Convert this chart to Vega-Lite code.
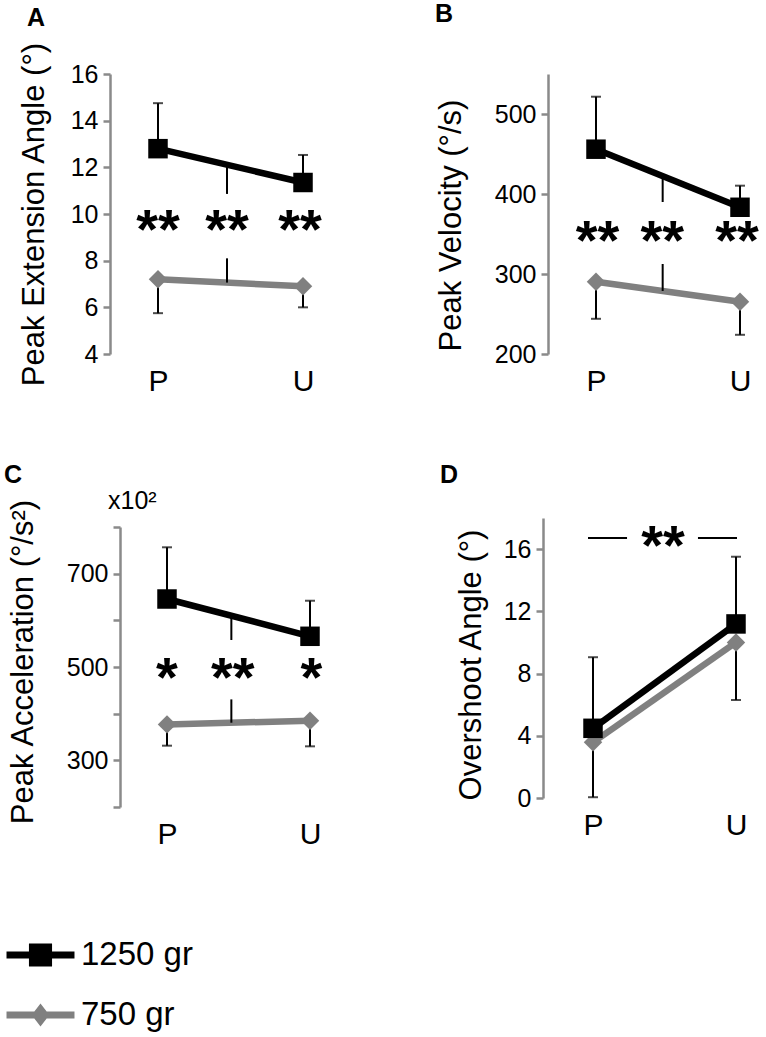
{
  "$schema": "https://vega.github.io/schema/vega-lite/v6.json",
  "padding": {"left": 4, "top": 2, "right": 5, "bottom": 5},
  "background": "white",
  "spacing": 433,
  "bounds": "flush",
  "config": {
    "font": "Liberation Sans",
    "view": {"stroke": null},
    "axisY": {"domainColor": "#8a8a8a", "domainWidth": 2.5, "tickColor": "#8a8a8a", "tickWidth": 2.5, "tickSize": 7, "labelFontSize": 25, "labelColor": "#000000", "labelPadding": 5, "grid": false, "titleFontSize": 31, "titleFontWeight": "normal", "titleColor": "#000000", "titleBaseline": "alphabetic", "labelOverlap": false},
    "axisX": {"domain": false, "ticks": false, "grid": false, "labelFontSize": 30, "labelColor": "#000000", "labelPadding": 12, "labelFlush": false, "labelOverlap": false},
    "title": {"fontSize": 25, "fontWeight": "bold", "color": "#000000", "anchor": "start", "frame": "group", "baseline": "alphabetic"}
  },
  "datasets": {
    "means": [
      {"panel": "A", "series": "1250 gr", "condition": "P", "x": 0, "mean": 12.8, "err": 14.75},
      {"panel": "A", "series": "1250 gr", "condition": "U", "x": 1, "mean": 11.35, "err": 12.53},
      {"panel": "A", "series": "750 gr", "condition": "P", "x": 0, "mean": 7.2, "err": 5.75},
      {"panel": "A", "series": "750 gr", "condition": "U", "x": 1, "mean": 6.9, "err": 6.0},
      {"panel": "B", "series": "1250 gr", "condition": "P", "x": 0, "mean": 456, "err": 521.6},
      {"panel": "B", "series": "1250 gr", "condition": "U", "x": 1, "mean": 383.4, "err": 410.4},
      {"panel": "B", "series": "750 gr", "condition": "P", "x": 0, "mean": 290.4, "err": 244},
      {"panel": "B", "series": "750 gr", "condition": "U", "x": 1, "mean": 265.4, "err": 224},
      {"panel": "C", "series": "1250 gr", "condition": "P", "x": 0, "mean": 645.7, "err": 756.5},
      {"panel": "C", "series": "1250 gr", "condition": "U", "x": 1, "mean": 565.8, "err": 642},
      {"panel": "C", "series": "750 gr", "condition": "P", "x": 0, "mean": 377, "err": 331.4},
      {"panel": "C", "series": "750 gr", "condition": "U", "x": 1, "mean": 385, "err": 330},
      {"panel": "D", "series": "1250 gr", "condition": "P", "x": 0, "mean": 4.48, "err": 9.05},
      {"panel": "D", "series": "1250 gr", "condition": "U", "x": 1, "mean": 11.19, "err": 15.51},
      {"panel": "D", "series": "750 gr", "condition": "P", "x": 0, "mean": 3.58, "err": 0.05},
      {"panel": "D", "series": "750 gr", "condition": "U", "x": 1, "mean": 10.0, "err": 6.3}
    ],
    "links": [
      {"panel": "A", "x": 0.476, "y": 12.09, "y2": 10.86},
      {"panel": "A", "x": 0.476, "y": 8.1, "y2": 7.06},
      {"panel": "B", "x": 0.463, "y": 422.4, "y2": 390},
      {"panel": "B", "x": 0.463, "y": 312.5, "y2": 278.8},
      {"panel": "C", "x": 0.45, "y": 609.7, "y2": 557.9},
      {"panel": "C", "x": 0.45, "y": 430.6, "y2": 380.6}
    ],
    "stars": [
      {"panel": "A", "x": 0, "y": 9.66, "label": "**"},
      {"panel": "A", "x": 0.476, "y": 9.66, "label": "**"},
      {"panel": "A", "x": 0.98, "y": 9.66, "label": "**"},
      {"panel": "B", "x": 0.01, "y": 350, "label": "**"},
      {"panel": "B", "x": 0.46, "y": 350, "label": "**"},
      {"panel": "B", "x": 0.98, "y": 350, "label": "**"},
      {"panel": "C", "x": 0, "y": 493.6, "label": "*"},
      {"panel": "C", "x": 0.46, "y": 493.6, "label": "**"},
      {"panel": "C", "x": 1.01, "y": 493.6, "label": "*"},
      {"panel": "D", "x": 0.49, "y": 16.7, "label": "**"}
    ],
    "bars": [
      {"panel": "D", "x": -0.035, "x2": 0.238, "y": 16.71},
      {"panel": "D", "x": 0.734, "x2": 1.007, "y": 16.71}
    ],
    "notes": [
      {"panel": "C", "x": -0.3986, "y": 800, "note": "x10²"}
    ]
  },
  "hconcat": [
    {
      "spacing": 173,
      "bounds": "flush",
      "resolve": {"scale": {"color": "independent", "shape": "independent"}, "legend": {"color": "independent", "shape": "independent"}},
      "vconcat": [
        {
          "width": 240, "height": 280,
          "title": {"text": "A", "dx": -83, "offset": 11},
          "encoding": {"x": {"field": "x", "type": "quantitative", "scale": {"domain": [-0.331, 1.324], "nice": false, "zero": false}, "axis": {"values": [0, 1], "labelExpr": "datum.value == 0 ? 'P' : 'U'", "title": null}}},
          "layer": [
            {"data": {"name": "means"}, "transform": [{"filter": "datum.panel == 'A'"}], "mark": {"type": "rule", "color": "#000000", "strokeWidth": 2}, "encoding": {"y": {"field": "mean", "type": "quantitative", "scale": {"domain": [4, 16], "nice": false, "zero": false}, "axis": {"values": [4, 6, 8, 10, 12, 14, 16], "title": "Peak Extension Angle (°)", "titleX": -66.5, "titleY": 140}}, "y2": {"field": "err"}}},
            {"data": {"name": "means"}, "transform": [{"filter": "datum.panel == 'A'"}], "mark": {"type": "tick", "orient": "horizontal", "color": "#000000", "size": 10, "thickness": 2}, "encoding": {"y": {"field": "err", "type": "quantitative", "scale": {"domain": [4, 16], "nice": false, "zero": false}}}},
            {"data": {"name": "means"}, "transform": [{"filter": "datum.panel == 'A' && datum.series == '750 gr'"}], "mark": {"type": "line", "color": "#808080", "strokeWidth": 6.5}, "encoding": {"y": {"field": "mean", "type": "quantitative", "scale": {"domain": [4, 16], "nice": false, "zero": false}}}},
            {"data": {"name": "means"}, "transform": [{"filter": "datum.panel == 'A' && datum.series == '1250 gr'"}], "mark": {"type": "line", "color": "#000000", "strokeWidth": 6.5}, "encoding": {"y": {"field": "mean", "type": "quantitative", "scale": {"domain": [4, 16], "nice": false, "zero": false}}}},
            {"data": {"name": "means"}, "transform": [{"filter": "datum.panel == 'A' && datum.series == '750 gr'"}], "mark": {"type": "point", "shape": "diamond", "filled": true, "color": "#808080", "size": 340, "opacity": 1}, "encoding": {"y": {"field": "mean", "type": "quantitative", "scale": {"domain": [4, 16], "nice": false, "zero": false}}}},
            {"data": {"name": "means"}, "transform": [{"filter": "datum.panel == 'A' && datum.series == '1250 gr'"}], "mark": {"type": "point", "shape": "square", "filled": true, "color": "#000000", "size": 380, "opacity": 1}, "encoding": {"y": {"field": "mean", "type": "quantitative", "scale": {"domain": [4, 16], "nice": false, "zero": false}}}},
            {"data": {"name": "links"}, "transform": [{"filter": "datum.panel == 'A'"}], "mark": {"type": "rule", "color": "#000000", "strokeWidth": 2}, "encoding": {"y": {"field": "y", "type": "quantitative", "scale": {"domain": [4, 16], "nice": false, "zero": false}}, "y2": {"field": "y2"}}},
            {"data": {"name": "stars"}, "transform": [{"filter": "datum.panel == 'A'"}], "mark": {"type": "text", "fontSize": 56, "fontWeight": "bold", "baseline": "alphabetic", "dy": 26, "color": "#000000"}, "encoding": {"y": {"field": "y", "type": "quantitative", "scale": {"domain": [4, 16], "nice": false, "zero": false}}, "text": {"field": "label"}}}
          ]
        },
        {
          "width": 240, "height": 280,
          "title": {"text": "C", "dx": -106, "offset": 1},
          "encoding": {"x": {"field": "x", "type": "quantitative", "scale": {"domain": [-0.3986, 1.2797], "nice": false, "zero": false}, "axis": {"values": [0, 1], "labelExpr": "datum.value == 0 ? 'P' : 'U'", "title": null}}},
          "layer": [
            {"data": {"name": "means"}, "transform": [{"filter": "datum.panel == 'C'"}], "mark": {"type": "rule", "color": "#000000", "strokeWidth": 2}, "encoding": {"y": {"field": "mean", "type": "quantitative", "scale": {"domain": [200, 800], "nice": false, "zero": false}, "axis": {"values": [200, 300, 400, 500, 600, 700, 800], "labelExpr": "datum.value == 300 || datum.value == 500 || datum.value == 700 ? datum.label : ''", "offset": -10, "title": "Peak Acceleration (°/s²)", "titleX": -88, "titleY": 134.5}}, "y2": {"field": "err"}}},
            {"data": {"name": "means"}, "transform": [{"filter": "datum.panel == 'C'"}], "mark": {"type": "tick", "orient": "horizontal", "color": "#000000", "size": 10, "thickness": 2}, "encoding": {"y": {"field": "err", "type": "quantitative", "scale": {"domain": [200, 800], "nice": false, "zero": false}}}},
            {"data": {"name": "means"}, "transform": [{"filter": "datum.panel == 'C' && datum.series == '750 gr'"}], "mark": {"type": "line", "color": "#808080", "strokeWidth": 6.5}, "encoding": {"y": {"field": "mean", "type": "quantitative", "scale": {"domain": [200, 800], "nice": false, "zero": false}}}},
            {"data": {"name": "means"}, "transform": [{"filter": "datum.panel == 'C' && datum.series == '1250 gr'"}], "mark": {"type": "line", "color": "#000000", "strokeWidth": 6.5}, "encoding": {"y": {"field": "mean", "type": "quantitative", "scale": {"domain": [200, 800], "nice": false, "zero": false}}}},
            {"data": {"name": "means"}, "transform": [{"filter": "datum.panel == 'C' && datum.series == '750 gr'"}], "mark": {"type": "point", "shape": "diamond", "filled": true, "color": "#808080", "size": 340, "opacity": 1}, "encoding": {"y": {"field": "mean", "type": "quantitative", "scale": {"domain": [200, 800], "nice": false, "zero": false}}}},
            {"data": {"name": "means"}, "transform": [{"filter": "datum.panel == 'C' && datum.series == '1250 gr'"}], "mark": {"type": "point", "shape": "square", "filled": true, "color": "#000000", "size": 380, "opacity": 1}, "encoding": {"y": {"field": "mean", "type": "quantitative", "scale": {"domain": [200, 800], "nice": false, "zero": false}}}},
            {"data": {"name": "links"}, "transform": [{"filter": "datum.panel == 'C'"}], "mark": {"type": "rule", "color": "#000000", "strokeWidth": 2}, "encoding": {"y": {"field": "y", "type": "quantitative", "scale": {"domain": [200, 800], "nice": false, "zero": false}}, "y2": {"field": "y2"}}},
            {"data": {"name": "stars"}, "transform": [{"filter": "datum.panel == 'C'"}], "mark": {"type": "text", "fontSize": 56, "fontWeight": "bold", "baseline": "alphabetic", "dy": 26, "color": "#000000"}, "encoding": {"y": {"field": "y", "type": "quantitative", "scale": {"domain": [200, 800], "nice": false, "zero": false}}, "text": {"field": "label"}}},
            {"data": {"name": "notes"}, "mark": {"type": "text", "fontSize": 25, "align": "left", "baseline": "alphabetic", "dx": -2, "dy": -18, "color": "#000000"}, "encoding": {"y": {"field": "y", "type": "quantitative", "scale": {"domain": [200, 800], "nice": false, "zero": false}}, "text": {"field": "note"}}},
            {"data": {"name": "means"}, "transform": [{"filter": "datum.panel == 'C'"}], "mark": {"type": "point", "filled": true, "opacity": 0}, "encoding": {"y": {"field": "mean", "type": "quantitative", "scale": {"domain": [200, 800], "nice": false, "zero": false}},
              "color": {"field": "series", "type": "nominal", "scale": {"domain": ["1250 gr", "750 gr"], "range": ["#000000", "#808080"]}, "legend": {"title": null, "orient": "none", "legendX": -86, "legendY": 411.5, "symbolSize": 484, "symbolStrokeWidth": 0, "symbolOpacity": 1, "labelFontSize": 33, "labelColor": "#000000", "labelOffset": 24, "rowPadding": 26, "padding": 0}},
              "shape": {"field": "series", "type": "nominal", "scale": {"domain": ["1250 gr", "750 gr"], "range": ["M-3.09,-0.32H-1.05V-1.05H1.05V-0.32H3.09V0.32H1.05V1.05H-1.05V0.32H-3.09Z", "M-3.09,-0.32H-0.56L0,-1.05L0.56,-0.32H3.09V0.32H0.56L0,1.05L-0.56,0.32H-3.09Z"]}, "legend": {"title": null, "orient": "none", "legendX": -86, "legendY": 411.5, "symbolSize": 484, "symbolStrokeWidth": 0, "symbolOpacity": 1, "labelFontSize": 33, "labelColor": "#000000", "labelOffset": 24, "rowPadding": 26, "padding": 0}}}}
          ]
        }
      ]
    },
    {
      "spacing": 164,
      "bounds": "flush",
      "vconcat": [
        {
          "width": 240, "height": 280,
          "title": {"text": "B", "dx": -108, "offset": 47},
          "encoding": {"x": {"field": "x", "type": "quantitative", "scale": {"domain": [-0.368, 1.2986], "nice": false, "zero": false}, "axis": {"values": [0, 1], "labelExpr": "datum.value == 0 ? 'P' : 'U'", "title": null}}},
          "layer": [
            {"data": {"name": "means"}, "transform": [{"filter": "datum.panel == 'B'"}], "mark": {"type": "rule", "color": "#000000", "strokeWidth": 2}, "encoding": {"y": {"field": "mean", "type": "quantitative", "scale": {"domain": [200, 550], "nice": false, "zero": false}, "axis": {"values": [200, 250, 300, 350, 400, 450, 500, 550], "labelExpr": "datum.value % 100 == 0 ? datum.label : ''", "offset": -5, "title": "Peak Velocity (°/s)", "titleX": -88, "titleY": 151}}, "y2": {"field": "err"}}},
            {"data": {"name": "means"}, "transform": [{"filter": "datum.panel == 'B'"}], "mark": {"type": "tick", "orient": "horizontal", "color": "#000000", "size": 10, "thickness": 2}, "encoding": {"y": {"field": "err", "type": "quantitative", "scale": {"domain": [200, 550], "nice": false, "zero": false}}}},
            {"data": {"name": "means"}, "transform": [{"filter": "datum.panel == 'B' && datum.series == '750 gr'"}], "mark": {"type": "line", "color": "#808080", "strokeWidth": 6.5}, "encoding": {"y": {"field": "mean", "type": "quantitative", "scale": {"domain": [200, 550], "nice": false, "zero": false}}}},
            {"data": {"name": "means"}, "transform": [{"filter": "datum.panel == 'B' && datum.series == '1250 gr'"}], "mark": {"type": "line", "color": "#000000", "strokeWidth": 6.5}, "encoding": {"y": {"field": "mean", "type": "quantitative", "scale": {"domain": [200, 550], "nice": false, "zero": false}}}},
            {"data": {"name": "means"}, "transform": [{"filter": "datum.panel == 'B' && datum.series == '750 gr'"}], "mark": {"type": "point", "shape": "diamond", "filled": true, "color": "#808080", "size": 340, "opacity": 1}, "encoding": {"y": {"field": "mean", "type": "quantitative", "scale": {"domain": [200, 550], "nice": false, "zero": false}}}},
            {"data": {"name": "means"}, "transform": [{"filter": "datum.panel == 'B' && datum.series == '1250 gr'"}], "mark": {"type": "point", "shape": "square", "filled": true, "color": "#000000", "size": 380, "opacity": 1}, "encoding": {"y": {"field": "mean", "type": "quantitative", "scale": {"domain": [200, 550], "nice": false, "zero": false}}}},
            {"data": {"name": "links"}, "transform": [{"filter": "datum.panel == 'B'"}], "mark": {"type": "rule", "color": "#000000", "strokeWidth": 2}, "encoding": {"y": {"field": "y", "type": "quantitative", "scale": {"domain": [200, 550], "nice": false, "zero": false}}, "y2": {"field": "y2"}}},
            {"data": {"name": "stars"}, "transform": [{"filter": "datum.panel == 'B'"}], "mark": {"type": "text", "fontSize": 56, "fontWeight": "bold", "baseline": "alphabetic", "dy": 25, "color": "#000000"}, "encoding": {"y": {"field": "y", "type": "quantitative", "scale": {"domain": [200, 550], "nice": false, "zero": false}}, "text": {"field": "label"}}}
          ]
        },
        {
          "width": 240, "height": 280,
          "title": {"text": "D", "dx": -103, "offset": 30},
          "encoding": {"x": {"field": "x", "type": "quantitative", "scale": {"domain": [-0.3497, 1.3287], "nice": false, "zero": false}, "axis": {"values": [0, 1], "labelExpr": "datum.value == 0 ? 'P' : 'U'", "title": null}}},
          "layer": [
            {"data": {"name": "means"}, "transform": [{"filter": "datum.panel == 'D'"}], "mark": {"type": "rule", "color": "#000000", "strokeWidth": 2}, "encoding": {"y": {"field": "mean", "type": "quantitative", "scale": {"domain": [0, 18], "nice": false, "zero": false}, "axis": {"values": [0, 2, 4, 6, 8, 10, 12, 14, 16, 18], "labelExpr": "datum.value % 4 == 0 && datum.value < 18 ? datum.label : ''", "title": "Overshoot Angle (°)", "titleX": -63, "titleY": 146.5}}, "y2": {"field": "err"}}},
            {"data": {"name": "means"}, "transform": [{"filter": "datum.panel == 'D'"}], "mark": {"type": "tick", "orient": "horizontal", "color": "#000000", "size": 10, "thickness": 2}, "encoding": {"y": {"field": "err", "type": "quantitative", "scale": {"domain": [0, 18], "nice": false, "zero": false}}}},
            {"data": {"name": "means"}, "transform": [{"filter": "datum.panel == 'D' && datum.series == '750 gr'"}], "mark": {"type": "line", "color": "#808080", "strokeWidth": 6.5}, "encoding": {"y": {"field": "mean", "type": "quantitative", "scale": {"domain": [0, 18], "nice": false, "zero": false}}}},
            {"data": {"name": "means"}, "transform": [{"filter": "datum.panel == 'D' && datum.series == '1250 gr'"}], "mark": {"type": "line", "color": "#000000", "strokeWidth": 6.5}, "encoding": {"y": {"field": "mean", "type": "quantitative", "scale": {"domain": [0, 18], "nice": false, "zero": false}}}},
            {"data": {"name": "means"}, "transform": [{"filter": "datum.panel == 'D' && datum.series == '750 gr'"}], "mark": {"type": "point", "shape": "diamond", "filled": true, "color": "#808080", "size": 340, "opacity": 1}, "encoding": {"y": {"field": "mean", "type": "quantitative", "scale": {"domain": [0, 18], "nice": false, "zero": false}}}},
            {"data": {"name": "means"}, "transform": [{"filter": "datum.panel == 'D' && datum.series == '1250 gr'"}], "mark": {"type": "point", "shape": "square", "filled": true, "color": "#000000", "size": 380, "opacity": 1}, "encoding": {"y": {"field": "mean", "type": "quantitative", "scale": {"domain": [0, 18], "nice": false, "zero": false}}}},
            {"data": {"name": "bars"}, "mark": {"type": "rule", "color": "#000000", "strokeWidth": 2}, "encoding": {"x2": {"field": "x2"}, "y": {"field": "y", "type": "quantitative", "scale": {"domain": [0, 18], "nice": false, "zero": false}}}},
            {"data": {"name": "stars"}, "transform": [{"filter": "datum.panel == 'D'"}], "mark": {"type": "text", "fontSize": 56, "fontWeight": "bold", "baseline": "alphabetic", "dy": 26, "color": "#000000"}, "encoding": {"y": {"field": "y", "type": "quantitative", "scale": {"domain": [0, 18], "nice": false, "zero": false}}, "text": {"field": "label"}}}
          ]
        }
      ]
    }
  ]
}
